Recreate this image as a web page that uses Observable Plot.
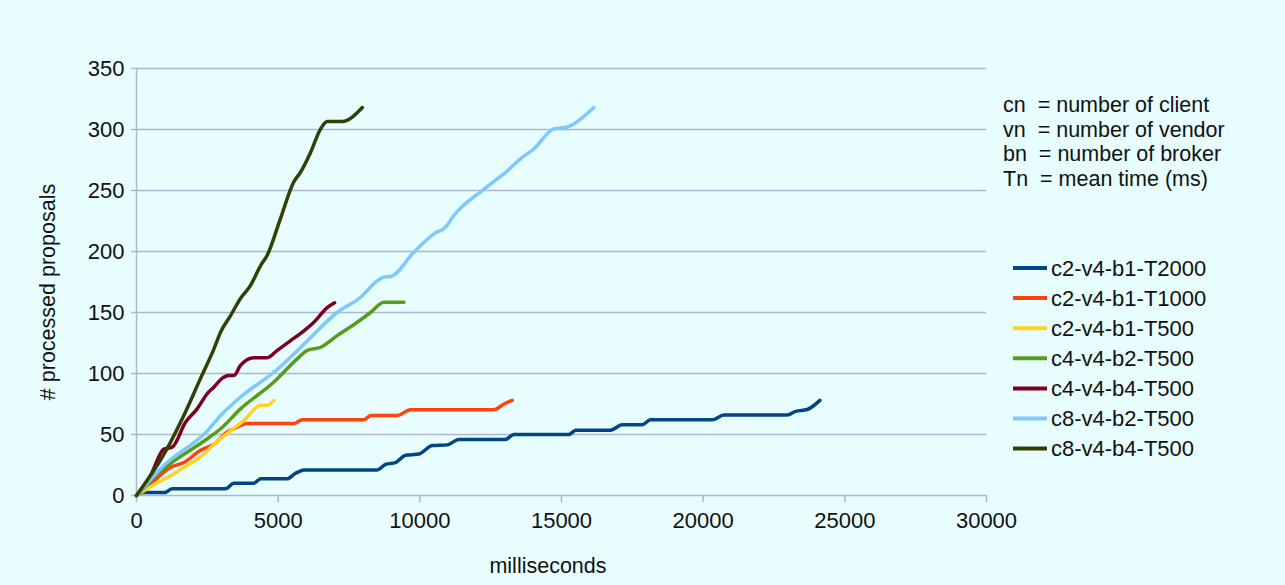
<!DOCTYPE html>
<html>
<head>
<meta charset="utf-8">
<script src="https://cdn.jsdelivr.net/npm/d3@7"></script>
<script src="https://cdn.jsdelivr.net/npm/@observablehq/plot@0.6"></script>
<style>
  html, body { margin: 0; padding: 0; background: #e8fefe; }
  #chart svg { display: block; }
</style>
</head>
<body>
<div id="chart"></div>
<script>
// ---- Data ----
const series = ["c2-v4-b1-T2000", "c2-v4-b1-T1000", "c2-v4-b1-T500", "c4-v4-b2-T500", "c4-v4-b4-T500", "c8-v4-b2-T500", "c8-v4-b4-T500"];
const colors = ["#004586", "#ff420e", "#ffd320", "#579d1c", "#7e0021", "#7cc8ff", "#314004"];
const notes = ["cn  = number of client", "vn  = number of vendor", "bn  = number of broker", "Tn  = mean time (ms)"];
const xTicks = [0, 5000, 10000, 15000, 20000, 25000, 30000];
const yTicks = [0, 50, 100, 150, 200, 250, 300, 350];

// c2-v4-b1-T2000
const t_c2b1T2000 = [0, 250, 1000, 1260, 3140, 3440, 4140, 4380, 5320, 5600, 5910, 8500, 8790, 9140, 9500, 9970, 10440, 10970, 11380, 13020, 13320, 15260, 15500, 16730, 17140, 17850, 18140, 20320, 20730, 22970, 23260, 23670, 24120];
const v_c2b1T2000 = [0, 2.5, 2.5, 5.5, 5.5, 10, 10, 13.7, 13.7, 18, 21, 21, 25.5, 27, 33, 34, 41, 41.5, 46, 46, 50, 50, 53.5, 53.5, 58, 58, 62, 62, 66, 66, 69, 70.5, 78];
// c2-v4-b1-T1000
const t_c2b1T1000 = [0, 500, 1200, 1670, 2260, 2730, 3200, 3550, 3910, 5550, 5850, 8020, 8260, 9200, 9670, 12610, 12970, 13260];
const v_c2b1T1000 = [0, 9.6, 23, 27, 37, 42, 52, 56, 59, 59, 62, 62, 65.6, 65.6, 70.3, 70.3, 75, 78];
// c2-v4-b1-T500
const t_c2b1T500 = [0, 700, 1320, 1670, 2380, 2730, 3320, 3790, 4380, 4610, 4850];
const v_c2b1T500 = [0, 10, 17.8, 23, 34, 42, 53, 61.5, 74, 74, 78];
// c4-v4-b2-T500
const t_c4b2T500 = [0, 965, 2500, 2970, 3670, 4850, 5670, 6030, 6500, 7080, 7790, 8260, 8730, 9440];
const v_c4b2T500 = [0, 22, 46.5, 54.7, 71, 93, 112, 119, 121.5, 131, 142, 150, 158.5, 158.5];
// c4-v4-b4-T500
const t_c4b4T500 = [0, 494, 965, 1260, 1730, 2140, 2500, 2730, 3020, 3260, 3440, 3670, 4140, 4610, 4970, 5440, 5910, 6260, 6730, 6990];
const v_c4b4T500 = [0, 16.4, 38, 39.6, 60, 71, 83.6, 88.8, 96, 98.4, 98.4, 106.6, 113, 113, 119, 127, 135, 142, 154, 158];
// c8-v4-b2-T500
const t_c8b2T500 = [0, 965, 2500, 2970, 3790, 4850, 5910, 7080, 7910, 8500, 8730, 8970, 9790, 10500, 10910, 11200, 12260, 12730, 12970, 13550, 14020, 14730, 15200, 15440, 16140];
const v_c8b2T500 = [0, 24.6, 53, 65.6, 83, 101, 124, 150, 162.5, 176, 179, 179.5, 199.4, 214.5, 220, 229.5, 251, 259.6, 263.7, 276, 284, 300.5, 302, 304.7, 318];
// c8-v4-b4-T500
const t_c8b4T500 = [0, 950, 1670, 2260, 2730, 2970, 3320, 3670, 4020, 4380, 4610, 5080, 5550, 5790, 6140, 6500, 6730, 7260, 7970];
const v_c8b4T500 = [0, 33, 65.6, 96, 120, 134, 147.5, 161.5, 172, 188.5, 196.7, 227, 257, 265, 281, 300.5, 306.5, 306.5, 318];

const seriesTimes = [t_c2b1T2000, t_c2b1T1000, t_c2b1T500, t_c4b2T500, t_c4b4T500, t_c8b2T500, t_c8b4T500];
const seriesValues = [v_c2b1T2000, v_c2b1T1000, v_c2b1T500, v_c4b2T500, v_c4b4T500, v_c8b2T500, v_c8b4T500];

const data = series.flatMap((s, i) => seriesTimes[i].map((t, j) => ({s, t, v: seriesValues[i][j]})));

// ---- Chart ----
const gridColor = "#adb5d3";
const font = "'Liberation Sans', Arial, sans-serif";

const chart = Plot.plot({
  width: 1285,
  height: 585,
  marginLeft: 136,
  marginRight: 299,
  marginTop: 68,
  marginBottom: 90,
  style: {background: "#e8fefe", fontFamily: font, fontSize: "22px", color: "#111"},
  x: {domain: [0, 30000]},
  y: {domain: [0, 350]},
  color: {domain: series, range: colors},
  marks: [
    Plot.gridY(yTicks, {stroke: gridColor, strokeOpacity: 1, strokeWidth: 1.5}),
    Plot.ruleX([0], {stroke: gridColor, strokeWidth: 1.5}),
    Plot.axisX({ticks: xTicks, tickFormat: d => String(d), label: null, tickSize: 7, tickPadding: 10, stroke: gridColor, strokeWidth: 1.5, fontSize: 22}),
    Plot.axisY({ticks: yTicks, tickFormat: d => String(d), label: null, tickSize: 5, tickPadding: 7, stroke: gridColor, strokeWidth: 1.5, fontSize: 22}),
    Plot.line(data, {x: "t", y: "v", z: "s", stroke: "s", strokeWidth: 3.5, curve: "monotone-x", strokeLinejoin: "round"})
  ]
});

const svg = d3.select(chart);

// axis titles
svg.append("text")
  .attr("transform", "translate(55,292) rotate(-90)")
  .attr("text-anchor", "middle")
  .attr("font-family", font).attr("font-size", 21.5).attr("fill", "#111")
  .text("# processed proposals");
svg.append("text")
  .attr("x", 548).attr("y", 573)
  .attr("text-anchor", "middle")
  .attr("font-family", font).attr("font-size", 21.5).attr("fill", "#111")
  .text("milliseconds");

// notes
const ng = svg.append("g").attr("font-family", font).attr("font-size", 21.5).attr("fill", "#111").attr("text-anchor", "start");
notes.forEach((n, i) => {
  ng.append("text").attr("x", 1003).attr("y", 112 + i * 24.6).attr("text-anchor", "start")
    .attr("xml:space", "preserve").style("white-space", "pre").text(n);
});

// legend
const lg = svg.append("g").attr("font-family", font).attr("font-size", 22).attr("fill", "#111").attr("text-anchor", "start");
series.forEach((s, i) => {
  const y = 268 + i * 30.1;
  lg.append("line").attr("x1", 1013).attr("x2", 1047).attr("y1", y).attr("y2", y)
    .attr("stroke", colors[i]).attr("stroke-width", 4);
  lg.append("text").attr("x", 1051).attr("y", y).attr("dy", "0.35em").attr("text-anchor", "start").text(s);
});

document.getElementById("chart").appendChild(chart);
</script>
</body>
</html>
